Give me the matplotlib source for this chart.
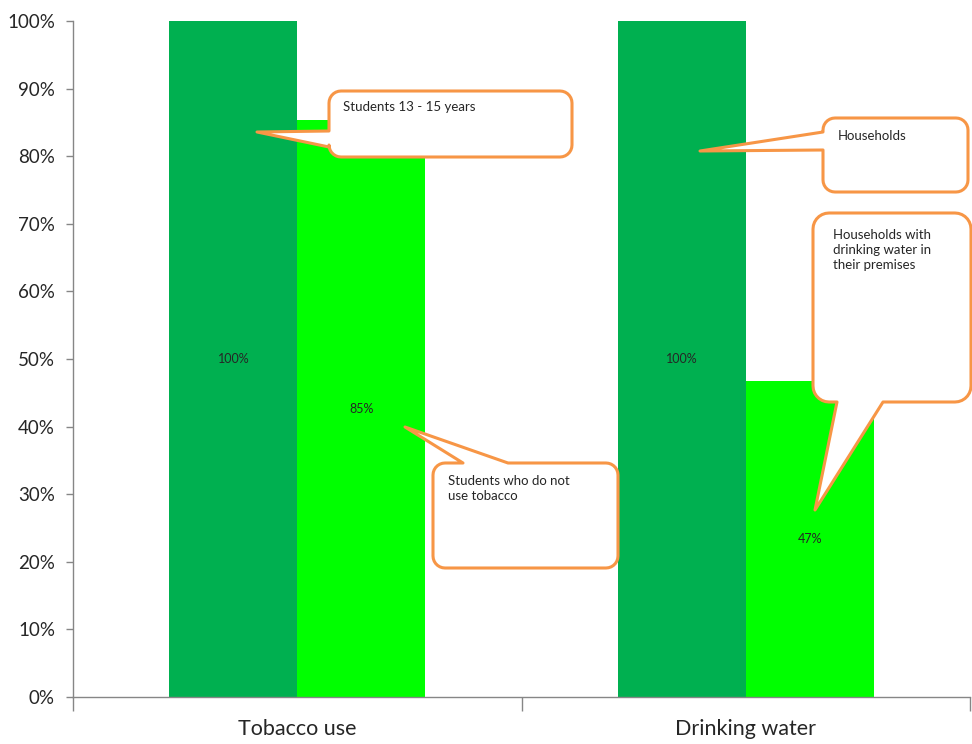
import numpy as np
import matplotlib
matplotlib.use("Agg")
import matplotlib.pyplot as plt
from matplotlib.path import Path
from matplotlib.patches import PathPatch
from matplotlib.ticker import FuncFormatter, FixedLocator

plt.rcParams['font.family'] = ['Lato', 'DejaVu Sans']

categories = ["Tobacco use", "Drinking water"]
base_values = [100, 100]            # students 13-15 years / households
subset_values = [85.3, 46.7]        # non-tobacco users / water on premises
y_ticks = [0, 10, 20, 30, 40, 50, 60, 70, 80, 90, 100]

DARK = "#00B050"
LIGHT = "#00FF00"
ORANGE = "#F79646"
AXIS_GREY = "#868686"
TEXT = "#262626"

W, H = 972, 744
fig = plt.figure(figsize=(W / 100, H / 100), dpi=100)
ax = fig.add_axes([73 / W, 1 - 697 / H, (970 - 73) / W, (697 - 21) / H])

x = np.arange(len(categories))
bw = 0.285
off = 0.1425
b1 = ax.bar(x - off, base_values, bw, color=DARK, zorder=2)
b2 = ax.bar(x + off, subset_values, bw, color=LIGHT, zorder=2)

for bars, vals in ((b1, base_values), (b2, subset_values)):
    for rect, v in zip(bars, vals):
        ax.text(rect.get_x() + rect.get_width() / 2, v / 2, f"{v:.0f}%",
                ha="center", va="center", fontsize=9, color=TEXT, zorder=3)

ax.set_xlim(-0.5, len(categories) - 0.5)
ax.set_ylim(0, 100)
ax.yaxis.set_major_locator(FixedLocator(y_ticks))
ax.yaxis.set_major_formatter(FuncFormatter(lambda v, p: f"{v:.0f}%"))
ax.tick_params(axis="y", labelsize=13.5, colors=AXIS_GREY, labelcolor=TEXT,
               length=5, width=1, direction="out", pad=8)

# category labels between boundary ticks
ax.set_xticks(x)
ax.set_xticklabels(categories, fontsize=15.5, color=TEXT)
ax.tick_params(axis="x", length=0, pad=16)
ax.set_xticks(np.arange(-0.5, len(categories)), minor=True)
ax.tick_params(axis="x", which="minor", length=10, width=1, colors=AXIS_GREY,
               direction="out")

for s in ("top", "right"):
    ax.spines[s].set_visible(False)
for s in ("left", "bottom"):
    ax.spines[s].set_color(AXIS_GREY)
    ax.spines[s].set_linewidth(1)

# overlay in pixel coordinates for the speech-bubble callouts
ov = fig.add_axes([0, 0, 1, 1], zorder=5)
ov.set_xlim(0, W)
ov.set_ylim(H, 0)
ov.axis("off")
ov.patch.set_alpha(0)


def corner(cx, cy, r, a0, a1, n=8):
    t = np.linspace(np.radians(a0), np.radians(a1), n)
    return [(cx + r * np.cos(t_), cy + r * np.sin(t_)) for t_ in t]


def bubble(x0, y0, x1, y1, side, b0, b1_, tip, r=12):
    # rounded rectangle traversed clockwise on screen (y grows downward)
    pts = []
    pts += corner(x0 + r, y0 + r, r, 180, 270)
    if side == "top":
        pts += [(b0, y0), tip, (b1_, y0)]
    pts += corner(x1 - r, y0 + r, r, 270, 360)
    pts += corner(x1 - r, y1 - r, r, 0, 90)
    if side == "bottom":
        pts += [(b1_, y1), tip, (b0, y1)]
    pts += corner(x0 + r, y1 - r, r, 90, 180)
    if side == "left":
        pts += [(x0, b1_), tip, (x0, b0)]
    pts.append(pts[0])
    codes = [Path.MOVETO] + [Path.LINETO] * (len(pts) - 2) + [Path.CLOSEPOLY]
    ov.add_patch(PathPatch(Path(pts, codes), facecolor="white",
                           edgecolor=ORANGE, linewidth=2.2, joinstyle="round"))


FS = 9.5
bubble(329, 91, 572, 157, "left", 131, 147, (257, 132))
ov.text(343, 101, "Students 13 - 15 years", fontsize=FS, color=TEXT,
        va="top", ha="left")

bubble(433, 463, 618, 568, "top", 463, 508, (405, 427))
ov.text(448, 475, "Students who do not\nuse tobacco", fontsize=FS, color=TEXT,
        va="top", ha="left", linespacing=1.3)

bubble(823, 118, 968, 192, "left", 132, 150, (700, 151))
ov.text(838, 130, "Households", fontsize=FS, color=TEXT, va="top", ha="left")

bubble(813, 213, 971, 402, "bottom", 837, 883, (815, 510), r=16)
ov.text(833, 229, "Households with\ndrinking water in\ntheir premises",
        fontsize=FS, color=TEXT, va="top", ha="left", linespacing=1.3)

fig.savefig("out.png", dpi=100)
